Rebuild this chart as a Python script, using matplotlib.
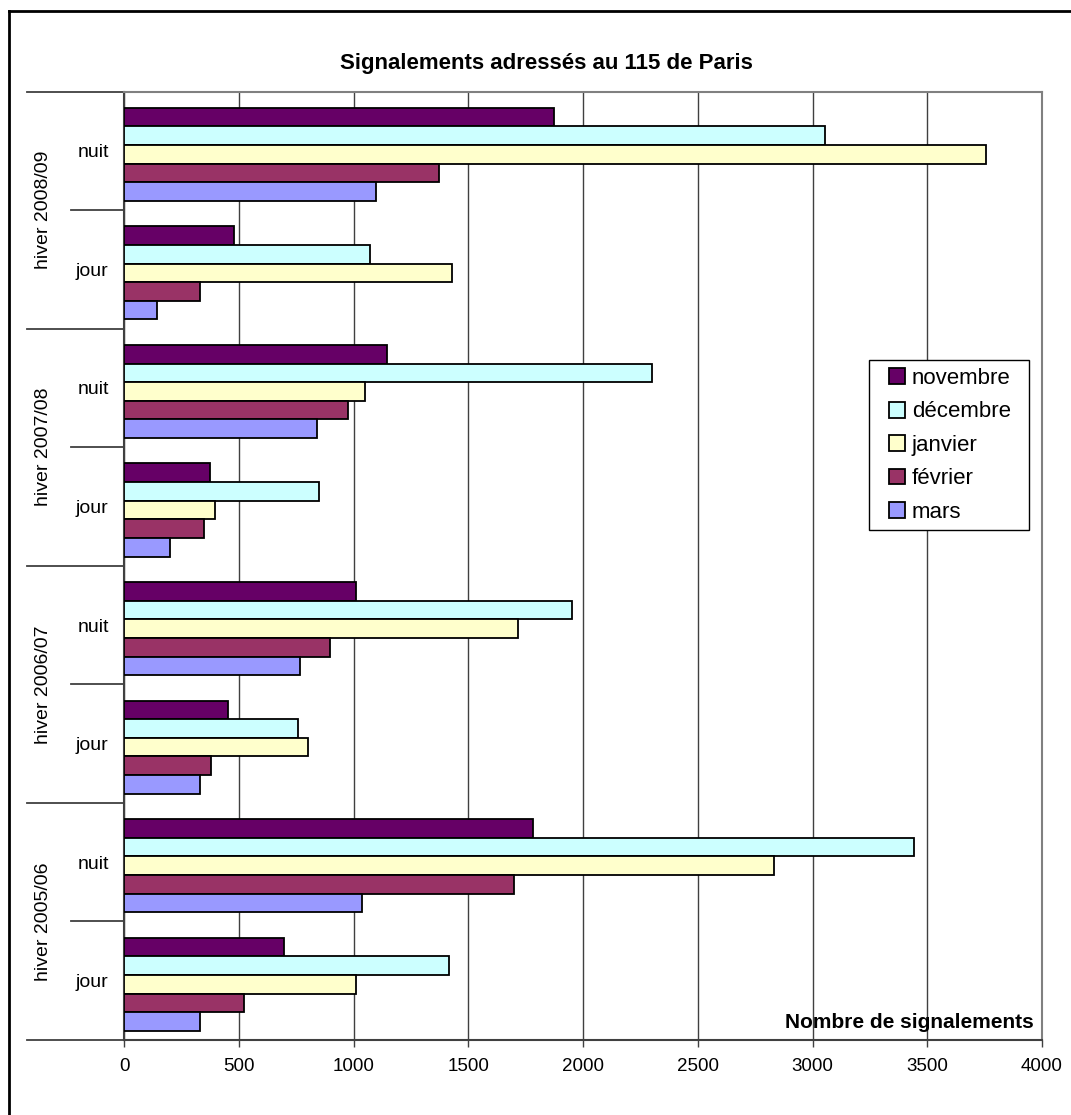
import matplotlib.pyplot as plt
from matplotlib.lines import Line2D
from matplotlib.patches import Rectangle
from matplotlib.transforms import blended_transform_factory
import numpy as np

plt.rcParams['font.family'] = ['Liberation Sans', 'DejaVu Sans']

# categories from bottom to top
winters = ['hiver 2005/06', 'hiver 2006/07', 'hiver 2007/08', 'hiver 2008/09']
periods = ['jour', 'nuit']
months = ['novembre', 'décembre', 'janvier', 'février', 'mars']
colors = ['#660066', '#CCFFFF', '#FFFFCC', '#993366', '#9999FF']

# values per month, order: 05/06 jour, 05/06 nuit, 06/07 jour, 06/07 nuit, ...
novembre = [697, 1782, 454, 1013, 373, 1148, 478, 1872]
decembre = [1417, 3442, 760, 1952, 848, 2300, 1073, 3053]
janvier = [1011, 2834, 800, 1716, 395, 1049, 1430, 3758]
fevrier = [525, 1700, 378, 896, 348, 977, 332, 1371]
mars = [331, 1036, 330, 768, 200, 839, 144, 1099]
series = [novembre, decembre, janvier, fevrier, mars]

W, H = 1071, 1115
fig = plt.figure(figsize=(W / 100, H / 100), dpi=100)
ax = fig.add_axes([124 / W, 1 - 1040 / H, 918 / W, 948.5 / H])

n_cat = len(winters) * len(periods)
y = np.arange(n_cat)
bar_h = 0.157
for i, (vals, name, col) in enumerate(zip(series, months, colors)):
    offset = (2 - i) * bar_h - 0.03
    ax.barh(y + offset, vals, height=bar_h, color=col, edgecolor='black',
            linewidth=1.3, label=name, zorder=3)

ax.set_xlim(0, 4000)
ax.set_ylim(-0.5, n_cat - 0.5)
ax.set_xticks(np.arange(0, 4001, 500))
ax.set_yticks(y)
ax.set_yticklabels(periods * len(winters))
ax.tick_params(axis='y', length=0, pad=11, labelsize=14)
ax.tick_params(axis='x', length=5, width=1, color='#404040', pad=8, labelsize=13.5)
ax.grid(axis='x', color='#404040', linewidth=1, zorder=0)

for side in ['top', 'right']:
    ax.spines[side].set_color('#808080')
    ax.spines[side].set_linewidth(1.5)
for side in ['left', 'bottom']:
    ax.spines[side].set_color('#404040')
    ax.spines[side].set_linewidth(1.5)

# separator lines on the category axis
trans = blended_transform_factory(ax.transAxes, ax.transData)
for k in range(n_cat + 1):
    yb = k - 0.5
    x0 = -0.1057 if k % 2 == 0 else -0.0577
    ax.add_line(Line2D([x0, 0], [yb, yb], transform=trans, color='#404040',
                       linewidth=1.3, clip_on=False))

for i, w in enumerate(winters):
    ax.text(-0.0882, 2 * i + 0.5, w, transform=trans, rotation=90,
            ha='center', va='center', fontsize=14)

ax.text(0.9913, 0.018, 'Nombre de signalements', transform=ax.transAxes,
        ha='right', va='center', fontsize=15, fontweight='bold', zorder=5)

fig.text(546 / W, 1 - 64 / H, 'Signalements adressés au 115 de Paris',
         ha='center', va='center', fontsize=16, fontweight='bold')

# legend box drawn separately so its padding matches the original
fig.add_artist(Rectangle((869 / W, 1 - 530 / H), 160 / W, 170 / H,
                         transform=fig.transFigure, facecolor='white',
                         edgecolor='black', linewidth=1, zorder=4))
fig.legend(loc='upper left', bbox_to_anchor=(889 / W, 1 - 368 / H),
           fontsize=16, frameon=False, handlelength=0.72, handleheight=0.72,
           handletextpad=0.3, labelspacing=0.56, borderpad=0,
           borderaxespad=0).set_zorder(5)

# outer chart border (top and left)
fig.add_artist(Line2D([9 / W, 9 / W], [0, 1 - 11 / H], color='black', linewidth=2))
fig.add_artist(Line2D([9 / W, 1], [1 - 11 / H, 1 - 11 / H], color='black', linewidth=2))

fig.savefig('out.png', dpi=100)
